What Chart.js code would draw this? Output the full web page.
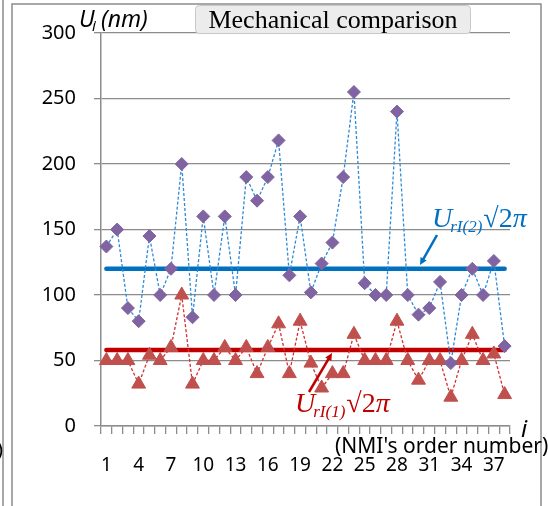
<!DOCTYPE html>
<html>
<head>
<meta charset="utf-8">
<script src="https://cdn.jsdelivr.net/npm/chart.js@4.4.1/dist/chart.umd.min.js"></script>
<style>
  html, body { margin: 0; padding: 0; background: #fff; }
  #wrap { position: relative; width: 548px; height: 506px; }
</style>
</head>
<body>
<div id="wrap"><canvas id="chart" width="548" height="506"></canvas></div>
<script>
// NMI order numbers on the x axis
const categories = ['1','2','3','4','5','6','7','8','9','10','11','12','13','14','15','16','17','18','19',
  '20','21','22','23','24','25','26','27','28','29','30','31','32','33','34','35','36','37','38'];
const xTickLabels = ['1','4','7','10','13','16','19','22','25','28','31','34','37'];
const yTicks = [0, 50, 100, 150, 200, 250, 300];

// U_i values (nm)
const uiSet2 = [137,150,90,80,145,100,120,200,83,160,100,160,100,190,172,190,218,115,160,102,
  124,140,190,255,109,100,100,240,100,85,90,110,48,100,120,100,126,61];
const uiSet1 = [50,50,50,32,54,50,60,100,32,50,50,60,50,60,40,60,78,40,80,48,
  29,40,40,70,50,50,50,80,50,35,50,50,22,50,70,50,55,24];

// reference levels U_rI * sqrt(2*pi)
const levelSet2 = [120, 120];
const levelSet1 = [58, 58];

const first = categories[0];
const last = categories[categories.length - 1];

// frame, title box, axis titles and the two callouts
const decorPlugin = {
  id: 'decor',
  beforeDraw(chart) {
    const ctx = chart.ctx;
    ctx.save();
    ctx.fillStyle = '#fff';
    ctx.fillRect(0, 0, chart.width, chart.height);
    ctx.strokeStyle = '#8c8c8c';
    ctx.lineWidth = 1.5;
    ctx.beginPath();
    ctx.moveTo(3, 0); ctx.lineTo(3, 506);
    ctx.moveTo(12, 506); ctx.lineTo(12, 4); ctx.lineTo(541, 4); ctx.lineTo(541, 506);
    ctx.stroke();
    // cut-off text of the neighbouring panel
    ctx.fillStyle = '#000';
    ctx.font = '20px "Noto Sans"';
    ctx.textAlign = 'right';
    ctx.textBaseline = 'alphabetic';
    ctx.fillText('0)', 3, 456);
    ctx.restore();
  },
  afterDraw(chart) {
    const ctx = chart.ctx;
    ctx.save();

    // title box
    ctx.fillStyle = '#ececec';
    ctx.strokeStyle = '#c8c8c8';
    ctx.lineWidth = 1;
    ctx.beginPath();
    ctx.roundRect(195.5, 5.5, 275, 28, 4);
    ctx.fill();
    ctx.stroke();
    ctx.fillStyle = '#000';
    ctx.font = '26px "Liberation Serif"';
    ctx.textAlign = 'center';
    ctx.textBaseline = 'alphabetic';
    ctx.fillText('Mechanical comparison', 333, 28);

    // y axis title
    ctx.textAlign = 'left';
    ctx.font = 'italic 23px "Noto Sans"';
    ctx.fillText('U', 79, 27);
    ctx.font = 'italic 15px "Noto Sans"';
    ctx.fillText('i', 92, 31);
    ctx.font = 'italic 23px "Noto Sans"';
    ctx.fillText('(nm)', 101, 27);

    // x axis title
    ctx.font = 'italic 24px "Noto Sans"';
    ctx.fillText('i', 521, 437);
    ctx.font = '21px "Noto Sans"';
    ctx.fillText("(NMI's order number)", 335, 453);

    function label(x, y, sub, color) {
      ctx.fillStyle = color;
      ctx.font = 'italic 28px "Liberation Serif"';
      ctx.fillText('U', x, y);
      let cx = x + ctx.measureText('U').width - 2;
      ctx.font = 'italic 17px "Liberation Serif"';
      ctx.fillText(sub, cx, y + 5);
      cx += ctx.measureText(sub).width + 1;
      ctx.font = '28px "Liberation Serif"';
      ctx.fillText('\u221A2', cx, y);
      cx += ctx.measureText('\u221A2').width;
      ctx.font = 'italic 28px "Liberation Serif"';
      ctx.fillText('\u03C0', cx, y);
    }

    function arrow(x1, y1, x2, y2, color) {
      const a = Math.atan2(y2 - y1, x2 - x1);
      const h = 8;
      ctx.strokeStyle = color;
      ctx.fillStyle = color;
      ctx.lineWidth = 2.5;
      ctx.beginPath();
      ctx.moveTo(x1, y1);
      ctx.lineTo(x2 - Math.cos(a) * h * 0.7, y2 - Math.sin(a) * h * 0.7);
      ctx.stroke();
      ctx.beginPath();
      ctx.moveTo(x2, y2);
      ctx.lineTo(x2 - h * Math.cos(a - 0.45), y2 - h * Math.sin(a - 0.45));
      ctx.lineTo(x2 - h * Math.cos(a + 0.45), y2 - h * Math.sin(a + 0.45));
      ctx.closePath();
      ctx.fill();
    }

    label(432, 227, 'rI(2)', '#0070C0');
    arrow(437, 235, 420, 265, '#0070C0');
    label(295, 412, 'rI(1)', '#C00000');
    arrow(309, 392, 332, 353, '#C00000');

    ctx.restore();
  }
};

const ctx = document.getElementById('chart').getContext('2d');
const chart = new Chart(ctx, {
  type: 'line',
  data: {
    labels: categories,
    datasets: [
      {
        label: 'U_i set 2',
        data: uiSet2,
        borderColor: '#2F8AD6',
        borderWidth: 1.3,
        borderDash: [3, 2],
        pointStyle: 'rectRot',
        pointRadius: 6.5,
        pointBackgroundColor: '#8064A2',
        pointBorderColor: '#8064A2',
        pointBorderWidth: 1,
        tension: 0,
        order: 1
      },
      {
        label: 'U_i set 1',
        data: uiSet1,
        borderColor: '#D32F2F',
        borderWidth: 1.3,
        borderDash: [3, 2],
        pointStyle: 'triangle',
        pointRadius: 8,
        pointBackgroundColor: '#C0504D',
        pointBorderColor: '#C0504D',
        pointBorderWidth: 1,
        tension: 0,
        order: 2
      },
      {
        label: 'level 2',
        data: [{ x: first, y: levelSet2[0] }, { x: last, y: levelSet2[1] }],
        borderColor: '#0070C0',
        borderWidth: 4.5,
        pointRadius: 0,
        borderCapStyle: 'round',
        order: 3
      },
      {
        label: 'level 1',
        data: [{ x: first, y: levelSet1[0] }, { x: last, y: levelSet1[1] }],
        borderColor: '#C00000',
        borderWidth: 4.5,
        pointRadius: 0,
        borderCapStyle: 'round',
        order: 4
      }
    ]
  },
  options: {
    responsive: false,
    animation: false,
    events: [],
    layout: { padding: { left: 0, right: 38, top: 33, bottom: 0 } },
    plugins: {
      legend: { display: false },
      title: { display: false },
      tooltip: { enabled: false }
    },
    scales: {
      x: {
        type: 'category',
        offset: true,
        afterFit(scale) { scale.height = 80; },
        grid: {
          offset: true,
          drawOnChartArea: false,
          drawTicks: true,
          tickLength: 8,
          color: '#8c8c8c',
          lineWidth: 1.3
        },
        border: { display: true, color: '#8c8c8c', width: 1.5 },
        ticks: {
          autoSkip: false,
          maxRotation: 0,
          padding: 20,
          color: '#000',
          font: { family: '"Noto Sans"', size: 19 },
          callback(value, index) {
            const c = categories[index];
            return xTickLabels.includes(c) ? c : '';
          }
        }
      },
      y: {
        min: yTicks[0],
        max: yTicks[yTicks.length - 1],
        afterFit(scale) { scale.width = 101; },
        afterBuildTicks(scale) { scale.ticks = yTicks.map(v => ({ value: v })); },
        grid: {
          color: '#8c8c8c',
          lineWidth: 1.3,
          drawTicks: true,
          tickLength: 7
        },
        border: { display: true, color: '#8c8c8c', width: 1.5 },
        ticks: {
          padding: 18,
          color: '#000',
          font: { family: '"Noto Sans"', size: 20 }
        }
      }
    }
  },
  plugins: [decorPlugin]
});
</script>
</body>
</html>
